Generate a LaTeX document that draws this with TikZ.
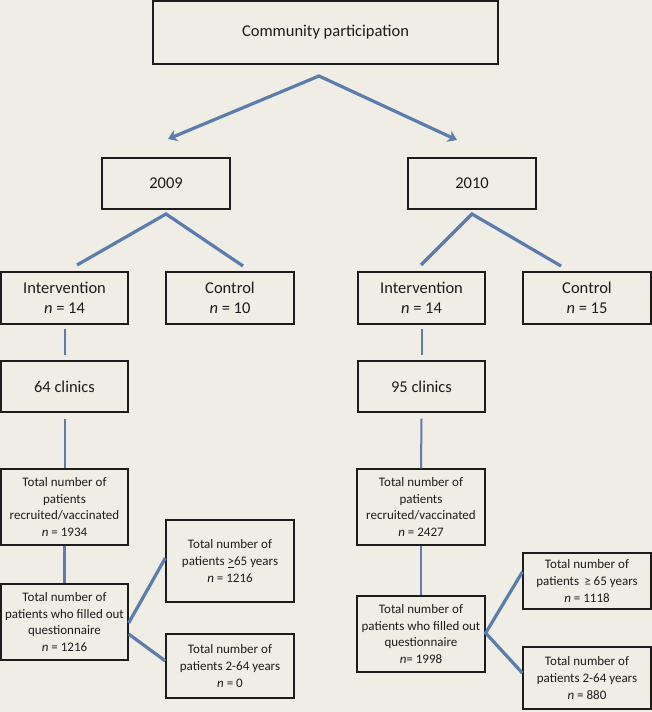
\documentclass[tikz,border=0pt]{standalone}
\usepackage{fontspec}
\setmainfont{Carlito}
\usetikzlibrary{arrows.meta}
\definecolor{bgc}{RGB}{240,237,228}
\definecolor{linec}{RGB}{88,125,178}
\definecolor{boxc}{RGB}{28,28,28}
\begin{document}
\begin{tikzpicture}[x=1pt,y=-1pt,
  box/.style={draw=boxc, line width=1.3pt, inner sep=0pt, align=center, text=boxc,
              font=\fontsize{16.5}{20}\selectfont},
  sbox/.style={box, font=\fontsize{13}{16.7}\selectfont},
  conn/.style={draw=linec, line width=3.2pt},
  vline/.style={draw=linec, line width=2pt},
  tip/.tip={Stealth[length=9pt,width=12pt,inset=3pt]}
]
\fill[bgc] (0,0) rectangle (652,712);
\useasboundingbox (0,0) rectangle (652,712);

% top
\node[box, minimum width=345pt, minimum height=63pt] (comm) at (325.5,32.5) {Community participation};
\node[box, minimum width=128pt, minimum height=51pt] (y09) at (166,183.5) {2009};
\node[box, minimum width=128pt, minimum height=51pt] (y10) at (472,183.5) {2010};

% groups
\node[box, minimum width=127pt, minimum height=52pt] (i09) at (64.5,298) {Intervention\\\textit{n} = 14};
\node[box, minimum width=128pt, minimum height=52pt] (c09) at (230,298) {Control\\\textit{n} = 10};
\node[box, minimum width=127pt, minimum height=52pt] (i10) at (421.5,298) {Intervention\\\textit{n} = 14};
\node[box, minimum width=128pt, minimum height=52pt] (c10) at (587,298) {Control\\\textit{n} = 15};

% clinics
\node[box, minimum width=127pt, minimum height=51pt] (k09) at (64.5,386.5) {64 clinics};
\node[box, minimum width=127pt, minimum height=51pt] (k10) at (421.5,386.5) {95 clinics};

% recruited
\node[sbox, minimum width=127pt, minimum height=76pt] (r09) at (64.5,507) {Total number of\\patients\\recruited/vaccinated\\\textit{n} = 1934};
\node[sbox, minimum width=128pt, minimum height=76pt] (r10) at (421,507) {Total number of\\patients\\recruited/vaccinated\\\textit{n} = 2427};

% questionnaire
\node[sbox, minimum width=127pt, minimum height=76pt] (f09) at (64.5,622) {Total number of\\patients who filled out\\questionnaire\\\textit{n} = 1216};
\node[sbox, minimum width=128pt, minimum height=76pt] (f10) at (421,634) {Total number of\\patients who filled out\\questionnaire\\\textit{n}= 1998};

% age groups
\node[sbox, minimum width=128pt, minimum height=82pt] (o09) at (230,561) {Total number of\\patients \underline{>}65 years\\\textit{n} = 1216};
\node[sbox, minimum width=128pt, minimum height=64pt] (t09) at (230,666) {Total number of\\patients 2-64 years\\\textit{n} = 0};
\node[sbox, minimum width=128pt, minimum height=56pt] (o10) at (587,581) {Total number of\\patients \,≥ 65 years\\\textit{n} = 1118};
\node[sbox, minimum width=128pt, minimum height=62pt] (t10) at (587,678) {Total number of\\patients 2-64 years\\\textit{n} = 880};

% arrows from community participation
\coordinate (a0) at (319,76);
\coordinate (a1) at (168,139);
\coordinate (a2) at (457,140);
\draw[conn, tip-tip, line join=miter] (a1) -- (a0) -- (a2);

% splits under years
\coordinate (b0) at (166,214);
\coordinate (b1) at (77,265);
\coordinate (b2) at (243,266);
\draw[conn, line join=miter] (b1) -- (b0) -- (b2);
\coordinate (d0) at (472,214);
\coordinate (d1) at (421,265);
\coordinate (d2) at (561,266);
\draw[conn, line join=miter] (d1) -- (d0) -- (d2);

% vertical chains
\draw[vline] ([yshift=-4pt]i09.south) -- ([yshift=5pt]k09.north);
\draw[vline] ([yshift=-4pt]i10.south) -- ([yshift=5pt]k10.north);
\draw[vline] ([yshift=-6pt]k09.south) -- (r09.north);
\draw[vline] ([yshift=-6pt]k10.south) -- (r10.north);
\draw[vline, line width=2.4pt] (r09.south) -- (f09.north);
\draw[vline, line width=2.4pt] (r10.south) -- (f10.north);

% age splits
\draw[conn] ([yshift=-1pt]f09.east) -- ([yshift=3pt]o09.west);
\draw[conn] ([yshift=-12pt]f09.east) -- ([yshift=5pt]t09.west);
\draw[conn, line join=miter] ([yshift=9pt]o10.west) -- ([yshift=1pt]f10.east) -- ([yshift=5pt]t10.west);
\end{tikzpicture}
\end{document}
